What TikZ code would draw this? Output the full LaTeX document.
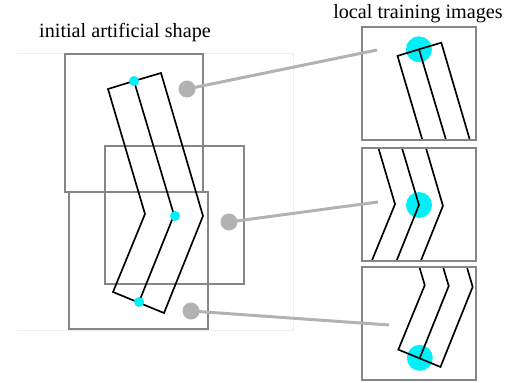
\documentclass[tikz,border=0pt]{standalone}
\usepackage{fontspec}
\setmainfont{Liberation Serif}

\definecolor{framegray}{RGB}{136,132,138}
\definecolor{lightline}{RGB}{178,178,178}
\definecolor{marker}{RGB}{0,240,250}

\tikzset{
  win/.style={draw=framegray, line width=1.1pt},
  edge/.style={line width=0.95pt, line join=miter},
  link/.style={draw=lightline, line width=1.7pt},
  handle/.style={circle, fill=lightline, inner sep=0pt, minimum size=0.34cm},
  title/.style={font=\fontsize{11.5}{13}\selectfont, anchor=base},
}

% the bent strip: outline plus its centre line
\newcommand{\chevronpath}{%
  \draw[edge] (134,81) -- (108,89) -- (145,214) -- (113,292) -- (164,313)
    -- (203,216) -- (161,73) -- cycle;
  \draw[edge] (134,81) -- (174,215) -- (139,302);
}

\begin{document}
\begin{tikzpicture}[x=0.02cm, y=-0.02cm]
    \useasboundingbox (0,0) rectangle (512,383);

    % Titles
    \node[title] (shapetitle) at (125,37) {initial artificial shape};
    \node[title] (patchtitle) at (418,18) {local training images};

    % faint frame around the shape
    \draw[black!7, line width=0.4pt] (17,53) -- (293,53) -- (293,330) -- (17,330);

    % Windows over the shape
    \draw[win] (65,54) rectangle (203,192);
    \draw[win] (105,146) rectangle (244,284);
    \draw[win] (69,192) rectangle (208,329);

    \chevronpath
    \fill[marker] (134,81) circle [radius=5];
    \fill[marker] (175,216) circle [radius=5];
    \fill[marker] (139,302) circle [radius=5];

    % Patches cut out by each window
    \foreach \bx/\by/\py/\ax/\ay in {65/54/27/134/81, 105/146/148/174/215, 69/192/267/139/302} {
        \begin{scope}
            \clip (362,\py) rectangle (476,\py+113);
            \begin{scope}[shift={(362,\py)}, scale=0.826, shift={(-\bx,-\by)}]
                \fill[marker] (\ax,\ay) circle [radius=15.7];
                \chevronpath
            \end{scope}
        \end{scope}
        \draw[win] (362,\py) rectangle +(114,113);
    }

    % Links from windows to patches
    \node[handle] (g1) at (187,89) {};
    \node[handle] (g2) at (229,222) {};
    \node[handle] (g3) at (191,311) {};
    \coordinate (t1) at (377,50);
    \coordinate (t2) at (378,202);
    \coordinate (t3) at (389,325);
    \draw[link] (g1.center) -- (t1);
    \draw[link] (g2.center) -- (t2);
    \draw[link] (g3.center) -- (t3);
\end{tikzpicture}
\end{document}
